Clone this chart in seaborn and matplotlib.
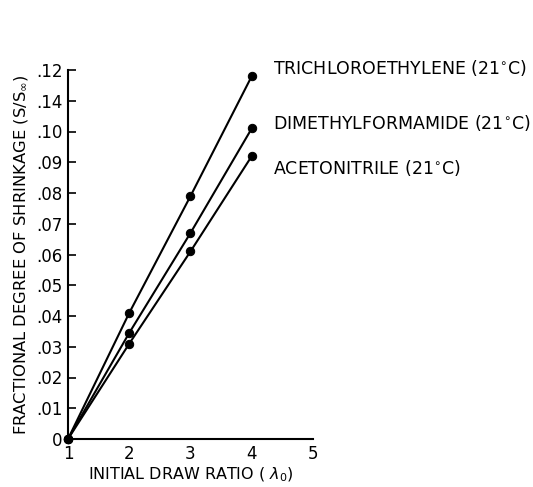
import matplotlib
matplotlib.use("Agg")
import matplotlib.pyplot as plt
import seaborn as sns
import pandas as pd

draw_ratio = [1, 2, 3, 4]
trichloroethylene = [0.0, 0.041, 0.079, 0.118]
dimethylformamide = [0.0, 0.0345, 0.067, 0.101]
acetonitrile = [0.0, 0.031, 0.061, 0.092]
series_names = ["TRICHLOROETHYLENE (21$^{\\circ}$C)",
                "DIMETHYLFORMAMIDE (21$^{\\circ}$C)",
                "ACETONITRILE (21$^{\\circ}$C)"]
label_y = [0.1207, 0.1028, 0.0881]
ytick_vals = [0, .01, .02, .03, .04, .05, .06, .07, .08, .09, .10, .11, .12]
ytick_labels = ["0", ".01", ".02", ".03", ".04", ".05", ".06", ".07", ".08",
                ".09", ".10", ".14", ".12"]
xtick_vals = [1, 2, 3, 4, 5]

sns.set_style("ticks")
plt.rcParams['font.family'] = ['DejaVu Sans']
plt.rcParams['text.color'] = 'black'
plt.rcParams['axes.labelcolor'] = 'black'
plt.rcParams['xtick.color'] = 'black'
plt.rcParams['ytick.color'] = 'black'

fig = plt.figure(figsize=(5.33, 4.87), dpi=100)
ax = fig.add_axes([68/533, 48/487, 245/533, 369/487])

for name, vals in zip(series_names, [trichloroethylene, dimethylformamide, acetonitrile]):
    df = pd.DataFrame({"x": draw_ratio, "y": vals})
    sns.lineplot(data=df, x="x", y="y", ax=ax, color="black", marker="o",
                 markersize=6, markeredgecolor="black", linewidth=1.5,
                 clip_on=False)

for name, ly in zip(series_names, label_y):
    ax.text(4.34, ly, name, fontsize=12.5, va="center", ha="left",
            color="black", clip_on=False)

ax.set_xlim(1, 5)
ax.set_ylim(0, 0.12)
ax.set_xticks(xtick_vals)
ax.set_xticklabels([str(v) for v in xtick_vals], fontsize=12)
ax.set_yticks(ytick_vals)
ax.set_yticklabels(ytick_labels, fontsize=12)
ax.tick_params(axis="y", direction="in", length=6, width=1.2, pad=4)
ax.tick_params(axis="x", length=0, pad=4)
sns.despine(ax=ax)
for s in ["left", "bottom"]:
    ax.spines[s].set_linewidth(1.5)
    ax.spines[s].set_color("black")

ax.set_xlabel("INITIAL DRAW RATIO ( $\\lambda_{0}$)", fontsize=11.5, labelpad=2)
ax.set_ylabel("FRACTIONAL DEGREE OF SHRINKAGE (S/S$_{\\infty}$)", fontsize=11.8,
              labelpad=4)

fig.savefig("out.png", dpi=100)
